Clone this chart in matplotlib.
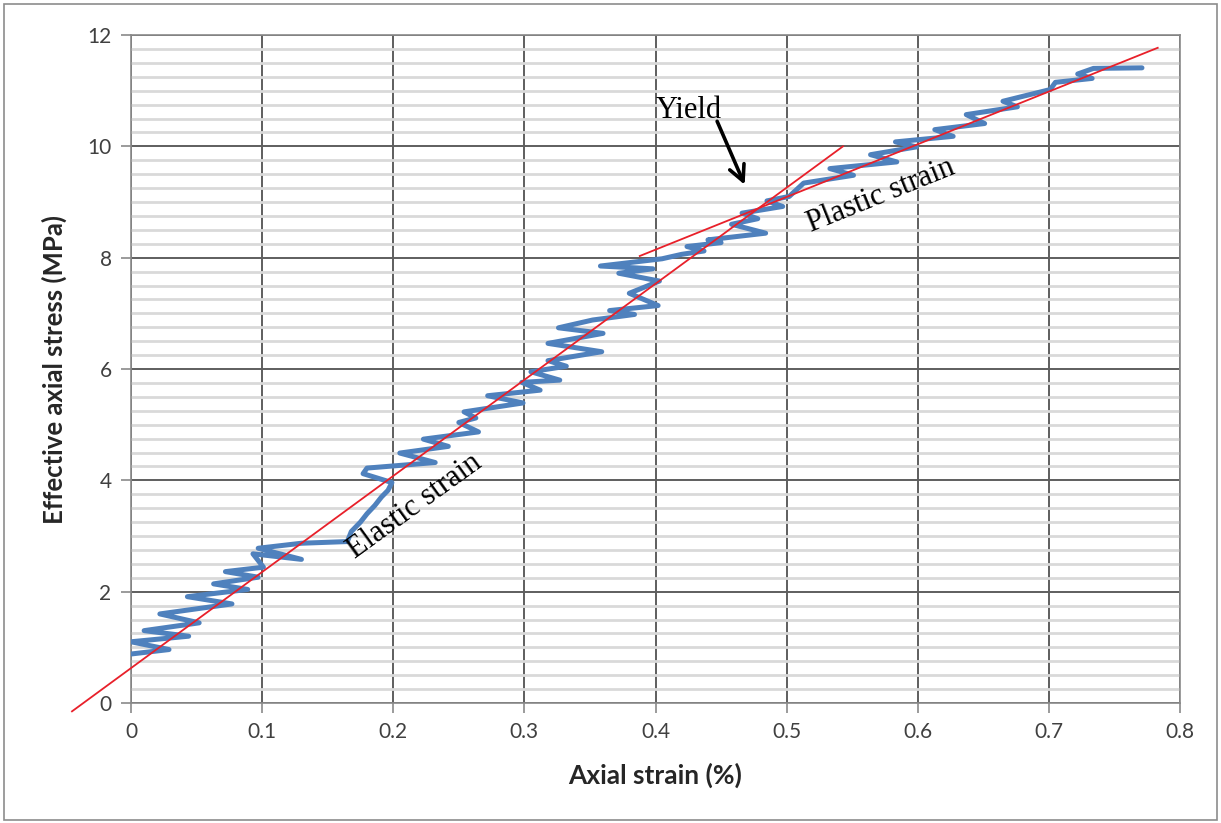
import matplotlib
matplotlib.use("Agg")
import matplotlib.pyplot as plt
from matplotlib.patches import Rectangle
from matplotlib.ticker import MultipleLocator

strain = [
    0.000, 0.029, 0.000, 0.044, 0.010, 0.052, 0.022, 0.077, 0.043, 0.089,
    0.063, 0.097, 0.072, 0.101, 0.093, 0.130, 0.097, 0.130, 0.165, 0.168,
    0.175, 0.180, 0.186, 0.191, 0.196, 0.199, 0.177, 0.180, 0.232, 0.205,
    0.242, 0.223, 0.265, 0.250, 0.263, 0.254, 0.299, 0.272, 0.312, 0.298,
    0.327, 0.305, 0.332, 0.318, 0.359, 0.318, 0.360, 0.326, 0.352, 0.384,
    0.365, 0.402, 0.380, 0.403, 0.372, 0.398, 0.358, 0.405, 0.420, 0.437,
    0.424, 0.450, 0.440, 0.484, 0.458, 0.478, 0.466, 0.497, 0.485, 0.502,
    0.513, 0.551, 0.533, 0.584, 0.564, 0.599, 0.583, 0.627, 0.613, 0.651,
    0.637, 0.676, 0.665, 0.701, 0.705, 0.733, 0.722, 0.734, 0.771,
]
stress = [
    0.88, 0.96, 1.10, 1.20, 1.30, 1.44, 1.60, 1.78, 1.91, 2.04,
    2.14, 2.26, 2.36, 2.44, 2.68, 2.58, 2.78, 2.87, 2.90, 3.08,
    3.25, 3.40, 3.55, 3.70, 3.82, 3.96, 4.12, 4.22, 4.32, 4.49,
    4.61, 4.74, 4.87, 5.04, 5.12, 5.23, 5.39, 5.52, 5.62, 5.76,
    5.80, 5.95, 6.05, 6.15, 6.31, 6.46, 6.64, 6.74, 6.88, 6.98,
    7.05, 7.14, 7.36, 7.58, 7.72, 7.80, 7.85, 7.98, 8.06, 8.12,
    8.20, 8.27, 8.32, 8.44, 8.60, 8.70, 8.80, 8.92, 9.02, 9.10,
    9.34, 9.48, 9.60, 9.72, 9.85, 9.99, 10.08, 10.18, 10.30, 10.41,
    10.57, 10.71, 10.81, 11.02, 11.15, 11.22, 11.30, 11.40, 11.41,
]

# fitted trend lines (end points)
elastic_x = [-0.045, 0.543]
elastic_y = [-0.15, 10.0]
plastic_x = [0.388, 0.783]
plastic_y = [8.03, 11.77]

x_ticks = [0, 0.1, 0.2, 0.3, 0.4, 0.5, 0.6, 0.7, 0.8]
x_ticklabels = ["0", "0.1", "0.2", "0.3", "0.4", "0.5", "0.6", "0.7", "0.8"]
y_ticks = [0, 2, 4, 6, 8, 10, 12]

W, H = 1221, 823
fig = plt.figure(figsize=(W / 100, H / 100), dpi=100)
fig.add_artist(Rectangle((4 / W, 3 / H), 1 - 8 / W, 1 - 7 / H,
                         transform=fig.transFigure, fill=False,
                         edgecolor="#8c8c8c", lw=1.2))

ax = fig.add_axes([131 / W, 1 - 703 / H, (1180 - 131) / W, (703 - 35) / H])
ax.set_xlim(0, 0.8)
ax.set_ylim(0, 12)

# Excel style grid
ax.yaxis.set_minor_locator(MultipleLocator(0.25))
ax.grid(which="minor", axis="y", color="#d9d9d9", lw=2.0, zorder=0)
ax.grid(which="major", axis="both", color="#5e5e5e", lw=1.4, zorder=0.5)
ax.set_axisbelow(True)
for s in ax.spines.values():
    s.set_color("#8a8a8a")
    s.set_linewidth(1.2)

ax.set_xticks(x_ticks)
ax.set_xticklabels(x_ticklabels)
ax.set_yticks(y_ticks)
ax.tick_params(which="major", direction="out", length=7, width=1.2,
               color="#8a8a8a", labelsize=15, labelcolor="#404040", pad=7)
ax.tick_params(which="minor", length=0)
for lab in ax.get_xticklabels() + ax.get_yticklabels():
    lab.set_family("Lato")

ax.plot(strain, stress, color="#4f81bd", lw=3.6, solid_joinstyle="round",
        solid_capstyle="round", zorder=3)
ax.plot(elastic_x, elastic_y, color="#e8202a", lw=1.3, zorder=4, clip_on=False)
ax.plot(plastic_x, plastic_y, color="#e8202a", lw=1.3, zorder=4, clip_on=False)

serif = "Liberation Serif"
ax.text(0.2166, 3.54, "Elastic strain", family=serif, fontsize=22, rotation=36,
        rotation_mode="anchor", ha="center", va="center", zorder=5)
ax.text(0.572, 9.11, "Plastic strain", family=serif, fontsize=22, rotation=22,
        rotation_mode="anchor", ha="center", va="center", zorder=5)
ax.text(0.425, 10.65, "Yield", family=serif, fontsize=22, ha="center",
        va="center", zorder=5)
ax.annotate("", xy=(0.468, 9.31), xytext=(0.447, 10.45), zorder=5,
            arrowprops=dict(arrowstyle="->", color="black", lw=2.6,
                            mutation_scale=28, shrinkA=0, shrinkB=0))

ax.set_xlabel("Axial strain (%)", family="Lato", fontweight="bold",
              fontsize=19, color="#262626")
ax.set_ylabel("Effective axial stress (MPa)", family="Lato", fontweight="bold",
              fontsize=18.5, color="#262626")
ax.xaxis.set_label_coords(0.5, -0.09)
ax.yaxis.set_label_coords(-0.061, 0.5)

fig.savefig("out.png", dpi=100)
